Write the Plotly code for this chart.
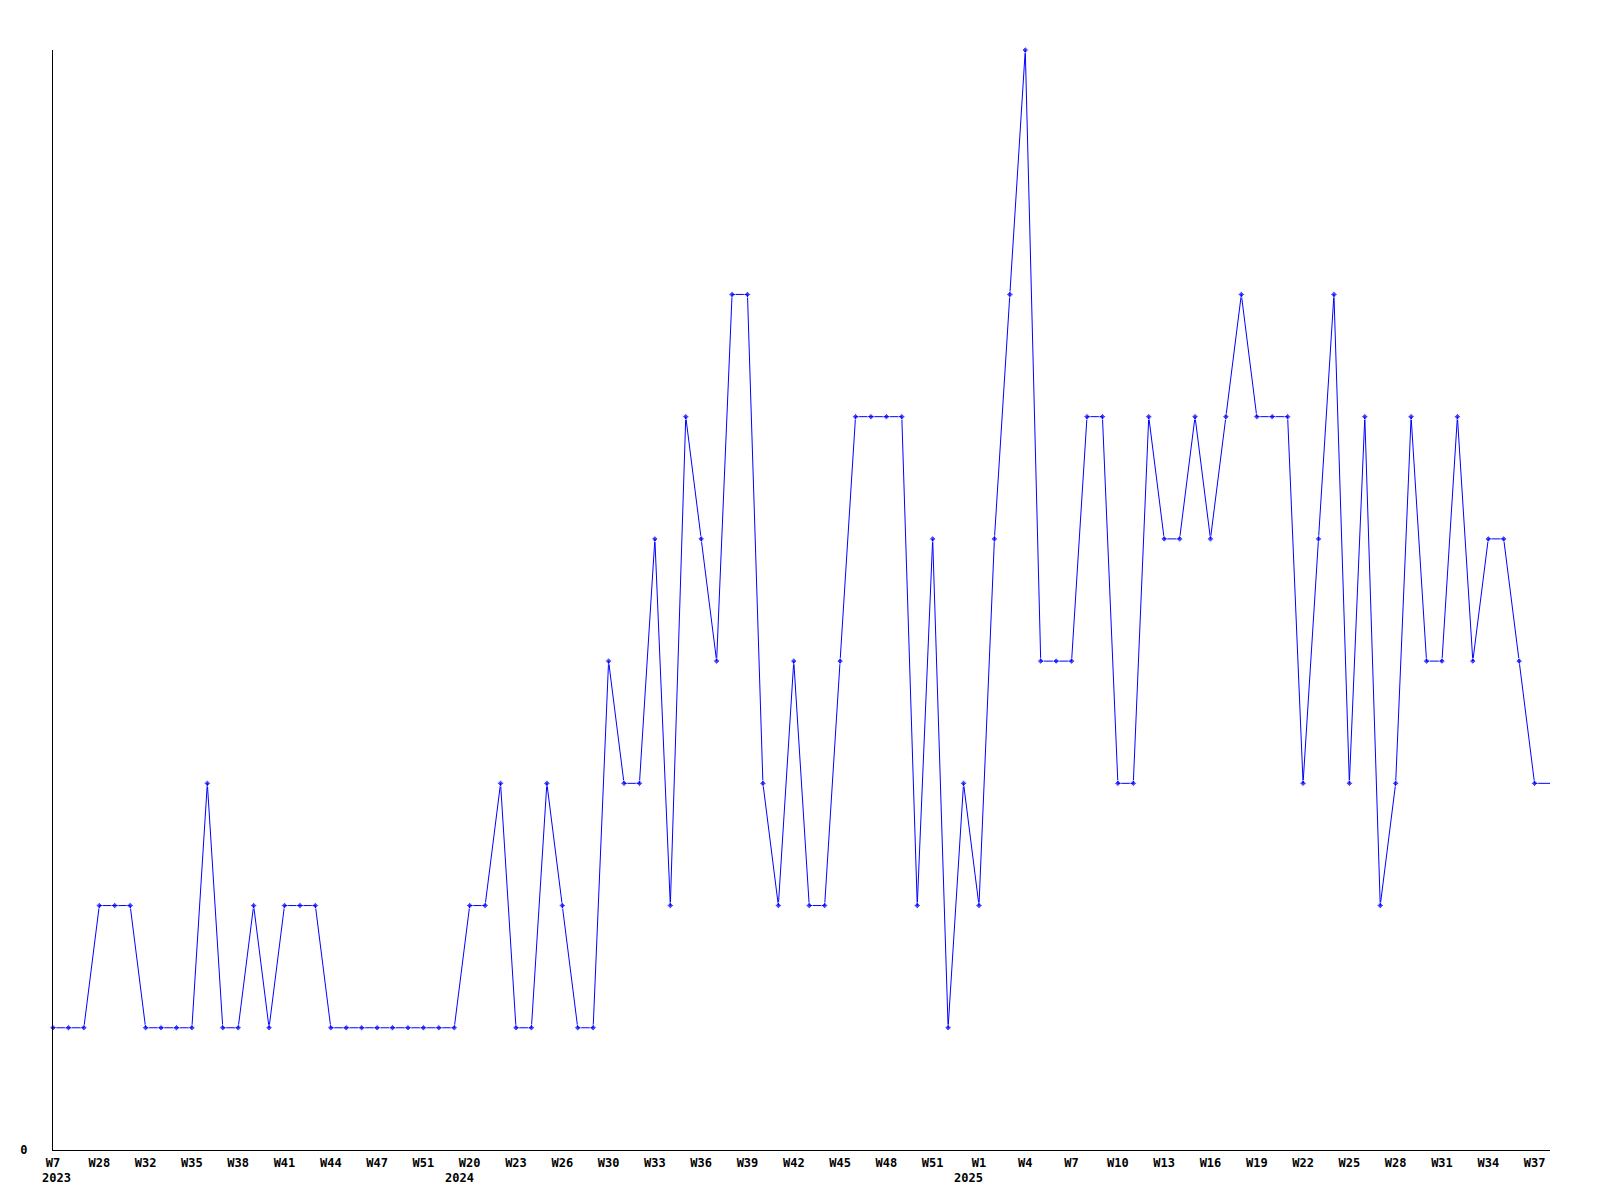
import plotly.graph_objects as go

values = [1, 1, 1, 2, 2, 2, 1, 1, 1, 1,
          3, 1, 1, 2, 1, 2, 2, 2, 1, 1,
          1, 1, 1, 1, 1, 1, 1, 2, 2, 3,
          1, 1, 3, 2, 1, 1, 4, 3, 3, 5,
          2, 6, 5, 4, 7, 7, 3, 2, 4, 2,
          2, 4, 6, 6, 6, 6, 2, 5, 1, 3,
          2, 5, 7, 9, 4, 4, 4, 6, 6, 3,
          3, 6, 5, 5, 6, 5, 6, 7, 6, 6,
          6, 3, 5, 7, 3, 6, 2, 3, 6, 4,
          4, 6, 4, 5, 5, 4, 3, 3]

tick_labels = ["W7", "W28", "W32", "W35", "W38", "W41", "W44", "W47", "W51",
               "W20", "W23", "W26", "W30", "W33", "W36", "W39", "W42", "W45",
               "W48", "W51", "W1", "W4", "W7", "W10", "W13", "W16", "W19",
               "W22", "W25", "W28", "W31", "W34", "W37"]
tick_step = 3
year_labels = ["2023", "2024", "2025"]
year_positions = [0, 27, 60]

x = list(range(len(values)))
tickvals = [i * tick_step for i in range(len(tick_labels))]
marker_sizes = [5] * (len(values) - 1) + [0]

font_family = "DejaVu Sans Mono"

fig = go.Figure()
fig.add_trace(go.Scatter(
    x=x, y=values, mode="lines+markers",
    line=dict(color="#0000ff", width=1),
    marker=dict(symbol="diamond", size=marker_sizes, color="#0000ff"),
    cliponaxis=False,
    hoverinfo="skip",
))

for yr, pos in zip(year_labels, year_positions):
    fig.add_annotation(
        x=pos, y=0, xref="x", yref="paper", text=yr, showarrow=False,
        yanchor="top", yshift=-19, xshift=-10 if pos else 3,
        font=dict(family=font_family, size=12, color="black", weight="bold"),
    )

fig.update_layout(
    width=1600, height=1200,
    margin=dict(l=42, r=58, t=42, b=58),
    plot_bgcolor="white", paper_bgcolor="white",
    showlegend=False,
    font=dict(family=font_family, size=12, color="black"),
)
fig.update_xaxes(
    range=[0, len(values) - 1],
    tickmode="array", tickvals=tickvals, ticktext=tick_labels,
    showgrid=False, zeroline=False, showline=True, linecolor="black", linewidth=1,
    ticks="", tickfont=dict(family=font_family, size=12, color="black", weight="bold"),
    ticklabelstandoff=2,
)
fig.update_yaxes(
    range=[0, 9],
    tickmode="array", tickvals=[0], ticktext=["0"],
    showgrid=False, zeroline=False, showline=True, linecolor="black", linewidth=1,
    ticks="", tickfont=dict(family=font_family, size=12, color="black", weight="bold"),
    ticklabelstandoff=22,
)

fig.write_html("out.html")
